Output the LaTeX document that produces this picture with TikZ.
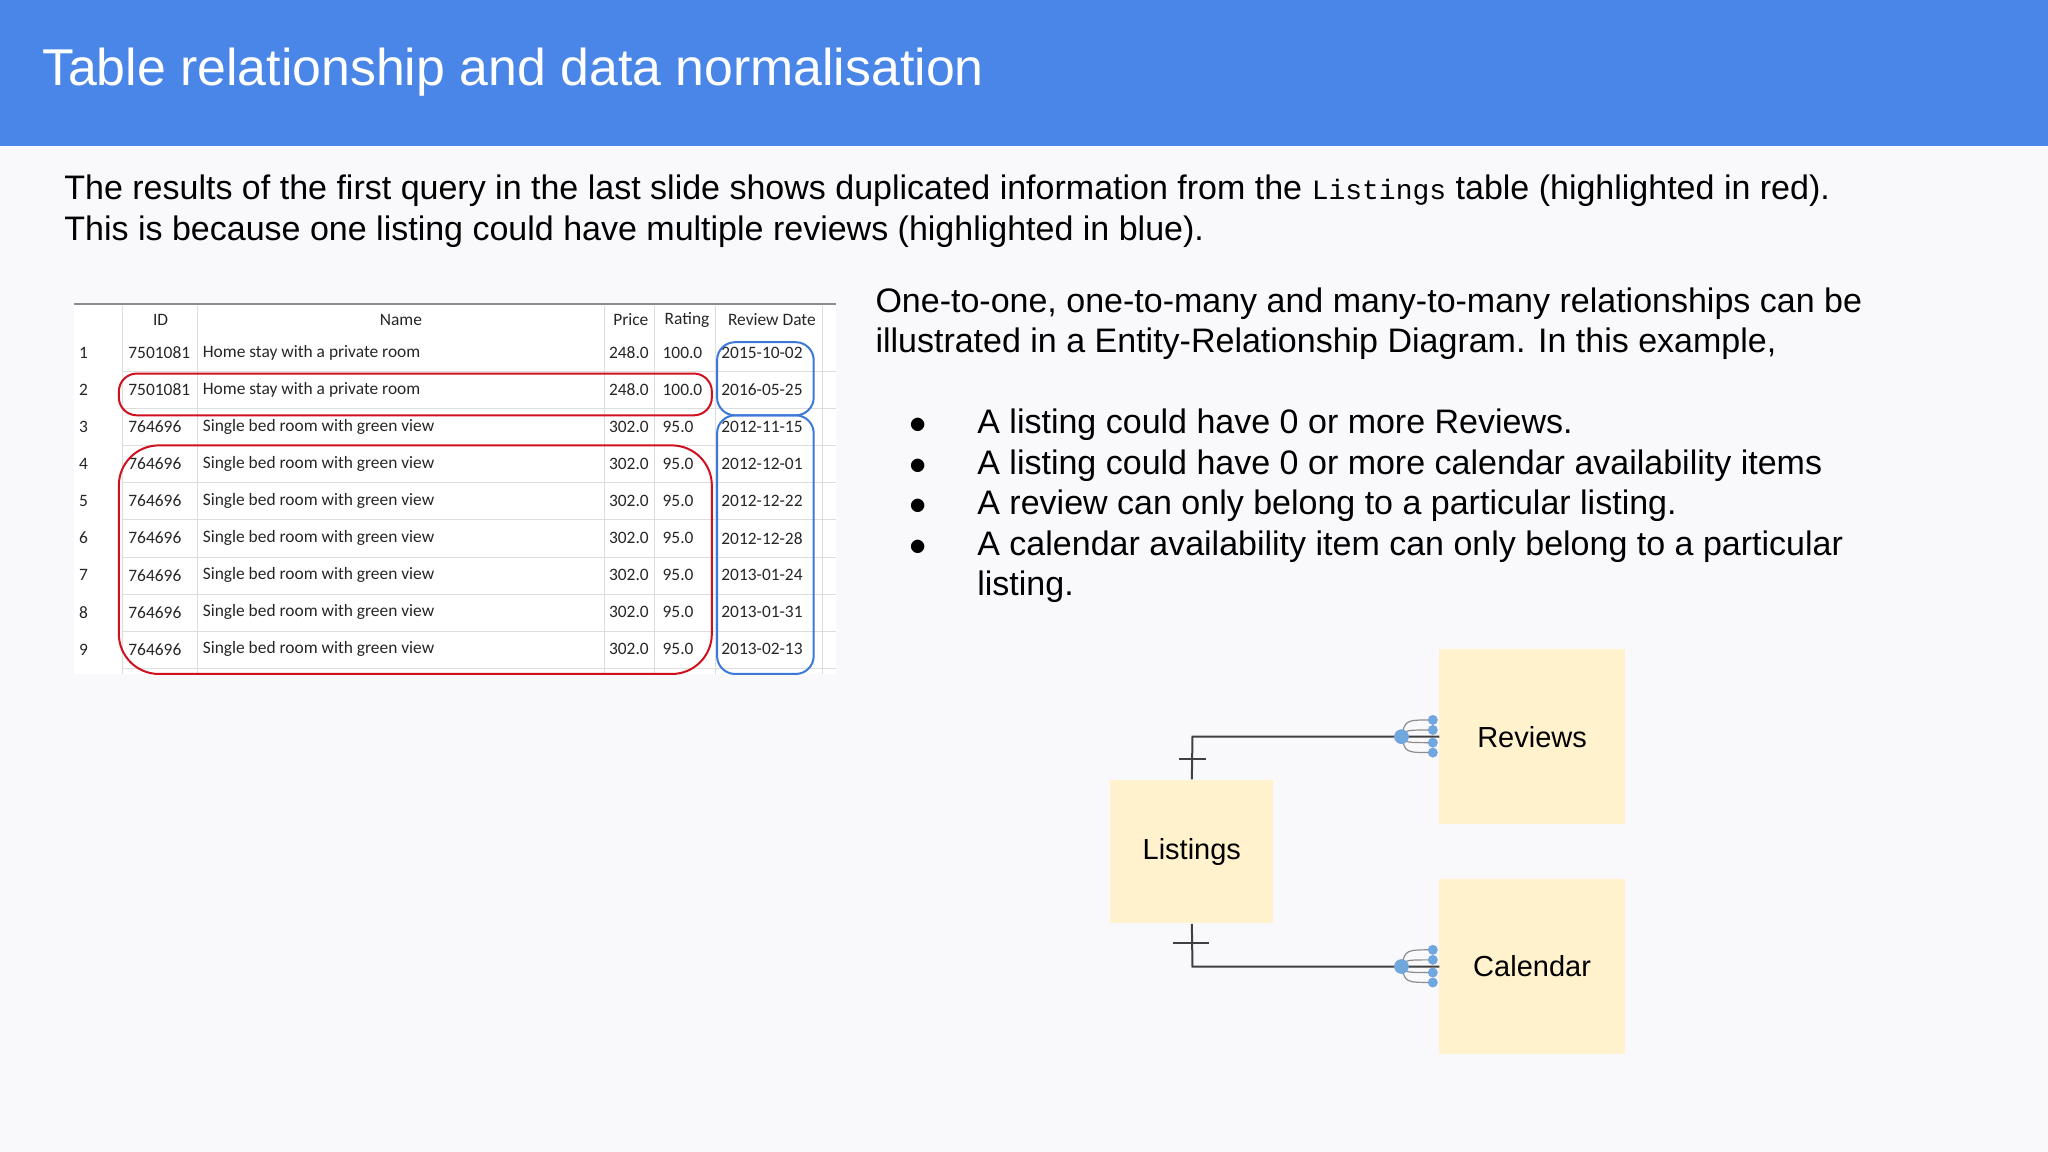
\documentclass[tikz,border=0pt]{standalone}
\usepackage{fontspec}
\setmainfont{Liberation Sans}
\newfontfamily\tabfont{Carlito}
\newfontfamily\monofont{Liberation Mono}
\definecolor{hdr}{HTML}{4A86E8}
\definecolor{bg}{HTML}{F9F9FC}
\definecolor{ent}{HTML}{FFF2CC}
\definecolor{redc}{HTML}{D0101E}
\definecolor{bluec}{HTML}{3C78D8}
\definecolor{dotc}{HTML}{6FA8DC}
\definecolor{gridc}{HTML}{DDDDDD}
\begin{document}
\begin{tikzpicture}[x=0.653pt,y=-0.653pt,
  body/.style={anchor=base west,inner sep=0pt,font=\fontsize{17}{20}\selectfont},
  tab/.style={inner sep=0pt,font=\tabfont\fontsize{8.7}{9}\selectfont,text=black!85},
  entity/.style={fill=ent,draw=none,font=\fontsize{14.5}{17}\selectfont},
  conn/.style={draw=black!75,line width=1pt},
  hl/.style={line width=1pt,rounded corners=9pt},
  foot/.style={draw=black!45,line width=0.6pt},
  dot/.style={circle,fill=dotc,draw=bluec!70,line width=0.3pt,inner sep=0pt}]
\fill[bg] (0,0) rectangle (1568,882);
\useasboundingbox (0,0) rectangle (1568,882);
\fill[hdr] (0,0) rectangle (1568,112);
\node[anchor=west,text=white,inner sep=0pt,font=\fontsize{25.9}{30}\selectfont] (title) at (32,55) {Table relationship and data normalisation};
\node[body] (p1) at (49,153) {The results of the first query in the last slide shows duplicated information from the {\monofont\fontsize{14}{16}\selectfont Listings} table (highlighted in red).};
\node[body] (p2) at (49,184) {This is because one listing could have multiple reviews (highlighted in blue).};
% table
\fill[white] (57,233) rectangle (640,516);
\draw[black!45,line width=1pt] (57,233) -- (640,233);
\foreach \x in {94,151,463,501,548,630} \draw[gridc,line width=0.5pt] (\x,234) -- (\x,516);
\foreach \i in {0,...,8} \draw[gridc,line width=0.5pt] (94,{284.5+28.4*\i}) -- (640,{284.5+28.4*\i});
\node[tab] (h1) at (123,245) {ID};
\node[tab] (h2) at (307,245) {Name};
\node[tab] (h3) at (483,245) {Price};
\node[tab] (h4) at (526,245) {Rating};
\node[tab] (h5) at (591,245) {Review Date};
\foreach \i/\id/\nm/\pr/\rt/\dt in {1/7501081/Home stay with a private room/248.0/100.0/2015-10-02,
 2/7501081/Home stay with a private room/248.0/100.0/2016-05-25,
 3/764696/Single bed room with green view/302.0/95.0/2012-11-15,
 4/764696/Single bed room with green view/302.0/95.0/2012-12-01,
 5/764696/Single bed room with green view/302.0/95.0/2012-12-22,
 6/764696/Single bed room with green view/302.0/95.0/2012-12-28,
 7/764696/Single bed room with green view/302.0/95.0/2013-01-24,
 8/764696/Single bed room with green view/302.0/95.0/2013-01-31,
 9/764696/Single bed room with green view/302.0/95.0/2013-02-13}{
  \pgfmathsetmacro\yy{270+28.4*(\i-1)}
  \node[tab] (n\i) at (64,\yy) {\i};
  \node[tab,anchor=west] (id\i) at (98,\yy) {\id};
  \node[tab,anchor=west] (nm\i) at (155,\yy) {\nm};
  \node[tab,anchor=west] (pr\i) at (466,\yy) {\pr};
  \node[tab,anchor=west] (rt\i) at (507,\yy) {\rt};
  \node[tab,anchor=west] (dt\i) at (552,\yy) {\dt};
}
\draw[hl,redc] (91,286) rectangle (545,318);
\draw[hl,redc,rounded corners=20pt] (91,341) rectangle (545,516);
\draw[hl,bluec] (549,262) rectangle (623,318);
\draw[hl,bluec] (549,318) rectangle (623,516);
% right text
\node[body] (q1) at (670,239) {One-to-one, one-to-many and many-to-many relationships can be};
\node[body] (q2) at (670,270) {illustrated in a Entity-Relationship Diagram. In this example,};
\foreach \y/\t in {332/A listing could have 0 or more Reviews.,363/A listing could have 0 or more calendar availability items,394/A review can only belong to a particular listing.,425/A calendar availability item can only belong to a particular}{
  \node[body] at (696,\y) {$\bullet$};
  \node[body] at (748,\y) {\t};
}
\node[body] (q7) at (748,456) {listing.};
% ER diagram
\node[entity,minimum width=125*0.653pt,minimum height=110*0.653pt] (L) at (912.5,652) {Listings};
\node[entity,minimum width=142*0.653pt,minimum height=134*0.653pt] (R) at (1173,564) {Reviews};
\node[entity,minimum width=142*0.653pt,minimum height=134*0.653pt] (C) at (1173,740) {Calendar};
\coordinate (rt) at (1102,564);
\coordinate (cb) at (1102,740);
\draw[conn] (L.north) -- (913,564) -- (rt);
\draw[conn] (L.south) -- (913,740) -- (cb);
\draw[conn] (903,581) -- (923,581);
\draw[conn] (898,722) -- (926,722);
\foreach \cy in {564,740}{
  \foreach \d in {-12.8,-5.1,4.6,12.2}{
    \draw[foot] (1073,\cy) .. controls (1076,\cy+\d) .. (1097,\cy+\d);
    \node[dot,minimum size=4.6pt] at (1097,\cy+\d) {};
  }
  \node[dot,minimum size=7pt] at (1073,\cy) {};
}
\end{tikzpicture}
\end{document}
